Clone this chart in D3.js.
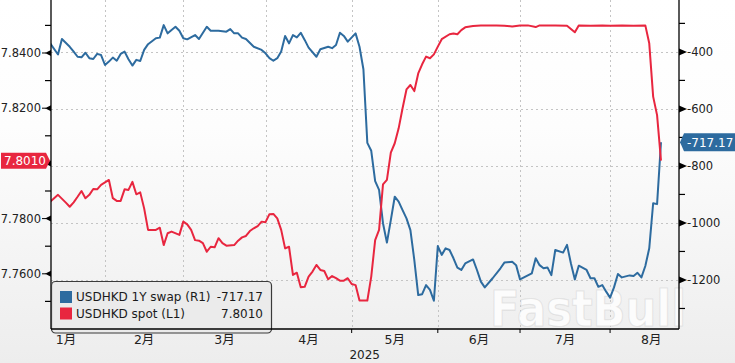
<!DOCTYPE html>
<html>
<head>
<meta charset="utf-8">
<script src="https://cdn.jsdelivr.net/npm/d3@7/dist/d3.min.js"></script>
<style>
html,body{margin:0;padding:0;background:#fff;}
svg{display:block;}
text{font-family:"DejaVu Sans","Noto Sans CJK SC",sans-serif;}
</style>
</head>
<body>
<svg id="chart" width="735" height="363"></svg>
<script>
// ---------------- DATA ----------------
// x positions are trading-day (weekday) numbers counted from 2025-01-01 (= 0)
const swapDays = [9,11,12,14,15,16,17,18,19,20,21,22,23,24,25,26,27,28,29,30,31,32,33,34,36,37,38,39,40,41,42,43,44,46,47,49,50,52,54,55,56,57,58,59,61,63,64,65,66,67,68,69,70,71,72,73,74,75,77,78,80,81,82,83,84,85,87,88,89,90,91,92,93,94,95,96,97,98,99,100,101,102,103,104,105,106,107,108,109,110,111,112,113,114,115,117,118,119,120,122,124,125,127,128,129,130,132,133,134,135,136,137,138,140,141,142,143,144,146,147,148,149,150,151,152,153,154,155,157,158,159,160,161,162,163,164,165];
const swapValues = [-370,-409,-355,-382,-399,-417,-419,-403,-422,-425,-407,-411,-446,-434,-420,-431,-407,-399,-426,-448,-428,-432,-393,-373,-352,-350,-306,-335,-323,-312,-326,-352,-356,-341,-355,-312,-326,-326,-329,-320,-335,-335,-350,-355,-382,-393,-405,-422,-431,-422,-399,-344,-370,-341,-349,-333,-358,-385,-417,-391,-382,-387,-376,-333,-344,-364,-335,-382,-461,-719,-747,-853,-884,-1001,-1069,-990,-908,-925,-955,-984,-1025,-1130,-1253,-1250,-1218,-1235,-1273,-1081,-1112,-1089,-1095,-1124,-1157,-1165,-1142,-1128,-1165,-1206,-1226,-1194,-1159,-1139,-1136,-1148,-1198,-1191,-1177,-1124,-1148,-1159,-1156,-1183,-1095,-1104,-1077,-1142,-1198,-1150,-1165,-1194,-1194,-1224,-1218,-1241,-1262,-1226,-1179,-1191,-1184,-1186,-1175,-1191,-1151,-1089,-931,-934,-717.17];

const spotDays = [9,10,11,13,14,15,16,17,18,19,20,21,22,24,25,26,27,28,29,30,31,32,33,34,36,37,38,39,40,42,43,44,45,46,47,48,49,50,51,52,53,54,56,57,58,59,60,61,62,63,64,65,66,67,68,69,70,71,72,73,74,75,76,77,78,79,80,81,82,83,84,85,86,87,88,89,90,91,92,93,94,95,96,97,98,99,100,101,102,103,104,105,106,107,108,109,111,112,113,114,115,117,119,121,123,125,127,129,131,133,134,138,141,143,144,147,150,152,155,158,161,162,163,164,165];
const spotValues = [7.7861,7.7874,7.7886,7.7858,7.7843,7.7859,7.7879,7.7900,7.7874,7.7886,7.7907,7.7906,7.7922,7.7940,7.7874,7.7864,7.7864,7.7906,7.7904,7.7933,7.7888,7.7895,7.7837,7.7759,7.7759,7.7767,7.7704,7.7747,7.7753,7.7741,7.7789,7.7779,7.7759,7.7722,7.7720,7.7711,7.7680,7.7698,7.7696,7.7729,7.7711,7.7702,7.7704,7.7720,7.7732,7.7737,7.7755,7.7765,7.7773,7.7789,7.7787,7.7816,7.7817,7.7801,7.7759,7.7692,7.7698,7.7596,7.7604,7.7551,7.7553,7.7590,7.7608,7.7632,7.7614,7.7610,7.7580,7.7592,7.7584,7.7575,7.7575,7.7584,7.7563,7.7559,7.7503,7.7503,7.7503,7.7590,7.7722,7.7759,7.7924,7.7940,7.8039,7.8073,7.8127,7.8200,7.8268,7.8284,7.8262,7.8326,7.8359,7.8387,7.8381,7.8395,7.8423,7.8450,7.8468,7.8471,7.8468,7.8483,7.8493,7.8498,7.8500,7.8500,7.8500,7.8499,7.8496,7.8500,7.8500,7.8494,7.8500,7.8500,7.8499,7.8475,7.8500,7.8499,7.8500,7.8499,7.8500,7.8499,7.8500,7.8435,7.8242,7.8175,7.8010];

const seriesNames = ["USDHKD 1Y swap (R1)", "USDHKD spot (L1)"];
const lastLabels = ["-717.17", "7.8010"];

const monthStarts = ["2025-01-01","2025-02-01","2025-03-01","2025-04-01","2025-05-01","2025-06-01","2025-07-01","2025-08-01","2025-09-01"];
const monthLabels = ["1月","2月","3月","4月","5月","6月","7月","8月"];
const yearLabel = "2025";

const leftMajor = [7.84, 7.82, 7.80, 7.78, 7.76];
const leftMinor = [7.85, 7.83, 7.81, 7.79, 7.77, 7.75];
const rightMajor = [-400, -600, -800, -1000, -1200];
const rightMinor = [-300, -500, -700, -900, -1100, -1300];

// ---------------- LAYOUT ----------------
const W = 735, H = 363;
const L = 51, R = 679, T = 0, B = 329;
const blue = "#2d6b9f", red = "#e8263f";

function tradingDay(s) {
  const start = new Date(Date.UTC(2025,0,1));
  const d = new Date(s + "T00:00:00Z");
  let n = 0;
  for (let t = new Date(start); t < d; t.setUTCDate(t.getUTCDate()+1)) {
    const wd = t.getUTCDay();
    if (wd !== 0 && wd !== 6) n++;
  }
  return n;
}

const svg = d3.select("#chart");
const defs = svg.append("defs");
const bg = defs.append("linearGradient").attr("id","bg").attr("x1",0).attr("y1",0).attr("x2",0).attr("y2",1);
bg.append("stop").attr("offset","0%").attr("stop-color","#ffffff");
bg.append("stop").attr("offset","35%").attr("stop-color","#fdfdfd");
bg.append("stop").attr("offset","100%").attr("stop-color","#ededed");
defs.append("clipPath").attr("id","plotclip").append("rect").attr("x",L).attr("y",T).attr("width",R-L).attr("height",B-T);

svg.append("rect").attr("width",W).attr("height",H).attr("fill","url(#bg)");

const x = d3.scaleLinear().domain([9.21, 169.6]).range([L, R]);
const yL = d3.scaleLinear().domain([7.74, 7.8592]).range([B, T]);
const yR = d3.scaleLinear().domain([-1372, -218]).range([B, T]);

const monthIdx = monthStarts.map(tradingDay);

// grid
const grid = svg.append("g").attr("stroke","#c4c4c4").attr("stroke-dasharray","2,3").attr("stroke-width",1);
rightMajor.forEach(v => {
  grid.append("line").attr("x1",L).attr("x2",R).attr("y1",Math.round(yR(v))+0.5).attr("y2",Math.round(yR(v))+0.5);
});
monthIdx.slice(1, 8).forEach(i => {
  grid.append("line").attr("y1",T).attr("y2",B).attr("x1",Math.round(x(i))+0.5).attr("x2",Math.round(x(i))+0.5);
});

// watermark
svg.append("text").attr("x",490).attr("y",326).attr("text-anchor","start")
  .attr("font-size",49).attr("font-weight","bold").attr("font-family","DejaVu Sans, sans-serif")
  .attr("textLength",196).attr("lengthAdjust","spacingAndGlyphs")
  .attr("fill","rgba(255,255,255,0.85)").attr("stroke","rgba(190,190,190,0.35)").attr("stroke-width",1.2)
  .text("FastBull");

// lines
const plot = svg.append("g").attr("clip-path","url(#plotclip)");
const swapData = swapDays.map((d,i)=>[d, swapValues[i]]);
const spotData = spotDays.map((d,i)=>[d, spotValues[i]]);
plot.append("path").datum(swapData).attr("fill","none").attr("stroke",blue).attr("stroke-width",2).attr("stroke-linejoin","round")
  .attr("d", d3.line().x(d=>x(d[0])).y(d=>yR(d[1])));
plot.append("path").datum(spotData).attr("fill","none").attr("stroke",red).attr("stroke-width",2).attr("stroke-linejoin","round")
  .attr("d", d3.line().x(d=>x(d[0])).y(d=>yL(d[1])));

// axes lines
const ax = svg.append("g").attr("stroke","#000").attr("stroke-width",1.3);
ax.append("line").attr("x1",L).attr("x2",L).attr("y1",T).attr("y2",B);
ax.append("line").attr("x1",R).attr("x2",R).attr("y1",T).attr("y2",B);

// left ticks
const spotLast = spotValues[spotValues.length-1];
leftMinor.forEach(v => {
  svg.append("line").attr("x1",L-6).attr("x2",L).attr("y1",yL(v)).attr("y2",yL(v)).attr("stroke","#000").attr("stroke-width",1.2);
});
leftMajor.forEach(v => {
  const y = yL(v);
  svg.append("path").attr("d",`M${L},${y-3} L${L},${y+3} L${L-6},${y} Z`).attr("fill","#000");
  svg.append("line").attr("x1",L-9).attr("x2",L-5).attr("y1",y).attr("y2",y).attr("stroke","#000").attr("stroke-width",1);
  // the last-value tag covers a tick label that lies under it
  if (Math.abs(yL(spotLast) - y) > 14) {
    svg.append("text").attr("x",L-10).attr("y",y).attr("dy","0.36em").attr("text-anchor","end")
      .attr("font-size",11.5).attr("fill","#222").text(d3.format(".4f")(v));
  }
});
// right ticks
rightMinor.forEach(v => {
  svg.append("line").attr("x1",R).attr("x2",R+6).attr("y1",yR(v)).attr("y2",yR(v)).attr("stroke","#000").attr("stroke-width",1.2);
});
rightMajor.forEach(v => {
  const y = yR(v);
  svg.append("path").attr("d",`M${R},${y-3.5} L${R},${y+3.5} L${R+8},${y} Z`).attr("fill","#000");
  svg.append("text").attr("x",R+8).attr("y",y).attr("dy","0.36em").attr("text-anchor","start")
    .attr("font-size",11.5).attr("fill","#222").text(String(v));
});

// x ticks & labels
monthIdx.slice(1, 8).forEach(i => {
  svg.append("line").attr("x1",x(i)).attr("x2",x(i)).attr("y1",B).attr("y2",B+4).attr("stroke","#000").attr("stroke-width",1);
});
monthLabels.forEach((m, k) => {
  const mid = (monthIdx[k] + monthIdx[k+1]) / 2;
  let cx = x(mid);
  cx = Math.max(cx, L + 15);
  svg.append("text").attr("x",cx).attr("y",344).attr("text-anchor","middle")
    .attr("font-size",12.5).attr("fill","#222").text(m);
});
svg.append("text").attr("x",x(monthIdx[4]) + 13).attr("y",359).attr("text-anchor","middle")
  .attr("font-size",12).attr("fill","#222").text(yearLabel);

// legend
const lg = svg.append("g");
lg.append("rect").attr("x",L+0.5).attr("y",281.5).attr("width",220).attr("height",B-281.5+4).attr("rx",4)
  .attr("fill","#ebebeb").attr("stroke","#3a3a3a").attr("stroke-width",1.2);
svg.append("line").attr("x1",L).attr("x2",R).attr("y1",B).attr("y2",B).attr("stroke","#000").attr("stroke-width",1.3);
[[blue, seriesNames[0], lastLabels[0], 297], [red, seriesNames[1], lastLabels[1], 313.5]].forEach(r => {
  lg.append("rect").attr("x",60).attr("y",r[3]-6).attr("width",12).attr("height",12).attr("fill",r[0]);
  lg.append("text").attr("x",76).attr("y",r[3]).attr("dy","0.36em").attr("font-size",12).attr("fill","#1a1a1a").text(r[1]);
  lg.append("text").attr("x",263).attr("y",r[3]).attr("dy","0.36em").attr("text-anchor","end").attr("font-size",12).attr("fill","#1a1a1a").text(r[2]);
});

// last value tags
{
  const y = yL(spotLast);
  svg.append("path").attr("d",`M1,${y-8} L46,${y-8} L50,${y} L46,${y+8} L1,${y+8} Z`).attr("fill",red);
  svg.append("text").attr("x",4).attr("y",y).attr("dy","0.36em").attr("font-size",12).attr("fill","#fff").text(lastLabels[1]);
}
{
  const y = yR(swapValues[swapValues.length-1]);
  svg.append("path").attr("d",`M${R+1},${y} L${R+5},${y-9} L735,${y-9} L735,${y+9} L${R+5},${y+9} Z`).attr("fill",blue);
  svg.append("text").attr("x",R+8).attr("y",y).attr("dy","0.36em").attr("font-size",12).attr("fill","#fff").text(lastLabels[0]);
}
</script>
</body>
</html>
